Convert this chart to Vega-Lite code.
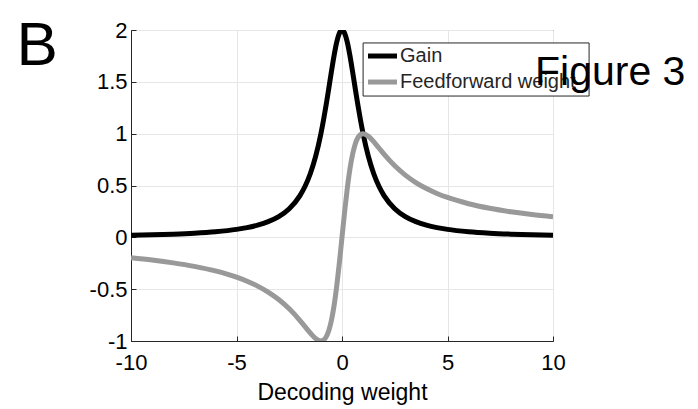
{
  "$schema": "https://vega.github.io/schema/vega-lite/v6.json",
  "width": 422,
  "height": 311,
  "autosize": {"type": "none"},
  "padding": {"left": 131, "top": 30, "right": 145, "bottom": 68},
  "background": "white",
  "config": {
    "view": {"stroke": "#262626", "strokeWidth": 1},
    "font": "Liberation Sans",
    "axis": {
      "labelFont": "Liberation Sans",
      "titleFont": "Liberation Sans",
      "labelColor": "#000000",
      "titleColor": "#000000",
      "labelFontSize": 22,
      "titleFontSize": 23,
      "titleFontWeight": "normal",
      "domainColor": "#262626",
      "tickColor": "#262626",
      "gridColor": "#e6e6e6",
      "labelFlush": false,
      "labelOverlap": false,
      "tickSize": -5,
      "labelExpr": "'' + datum.value"
    }
  },
  "datasets": {
    "curves": [
      {"x": -10, "Gain": 0.0198, "Feedforward": -0.198},
      {"x": -9, "Gain": 0.0244, "Feedforward": -0.2195},
      {"x": -8, "Gain": 0.0308, "Feedforward": -0.2462},
      {"x": -7, "Gain": 0.04, "Feedforward": -0.28},
      {"x": -6, "Gain": 0.0541, "Feedforward": -0.3243},
      {"x": -5, "Gain": 0.0769, "Feedforward": -0.3846},
      {"x": -4.5, "Gain": 0.0941, "Feedforward": -0.4235},
      {"x": -4, "Gain": 0.1176, "Feedforward": -0.4706},
      {"x": -3.5, "Gain": 0.1509, "Feedforward": -0.5283},
      {"x": -3, "Gain": 0.2, "Feedforward": -0.6},
      {"x": -2.5, "Gain": 0.2759, "Feedforward": -0.6897},
      {"x": -2, "Gain": 0.4, "Feedforward": -0.8},
      {"x": -1.75, "Gain": 0.4923, "Feedforward": -0.8615},
      {"x": -1.5, "Gain": 0.6154, "Feedforward": -0.9231},
      {"x": -1.25, "Gain": 0.7805, "Feedforward": -0.9756},
      {"x": -1, "Gain": 1, "Feedforward": -1},
      {"x": -0.875, "Gain": 1.1327, "Feedforward": -0.9912},
      {"x": -0.75, "Gain": 1.28, "Feedforward": -0.96},
      {"x": -0.625, "Gain": 1.4382, "Feedforward": -0.8989},
      {"x": -0.5, "Gain": 1.6, "Feedforward": -0.8},
      {"x": -0.375, "Gain": 1.7534, "Feedforward": -0.6575},
      {"x": -0.25, "Gain": 1.8824, "Feedforward": -0.4706},
      {"x": -0.125, "Gain": 1.9692, "Feedforward": -0.2462},
      {"x": 0, "Gain": 2, "Feedforward": 0},
      {"x": 0.125, "Gain": 1.9692, "Feedforward": 0.2462},
      {"x": 0.25, "Gain": 1.8824, "Feedforward": 0.4706},
      {"x": 0.375, "Gain": 1.7534, "Feedforward": 0.6575},
      {"x": 0.5, "Gain": 1.6, "Feedforward": 0.8},
      {"x": 0.625, "Gain": 1.4382, "Feedforward": 0.8989},
      {"x": 0.75, "Gain": 1.28, "Feedforward": 0.96},
      {"x": 0.875, "Gain": 1.1327, "Feedforward": 0.9912},
      {"x": 1, "Gain": 1, "Feedforward": 1},
      {"x": 1.25, "Gain": 0.7805, "Feedforward": 0.9756},
      {"x": 1.5, "Gain": 0.6154, "Feedforward": 0.9231},
      {"x": 1.75, "Gain": 0.4923, "Feedforward": 0.8615},
      {"x": 2, "Gain": 0.4, "Feedforward": 0.8},
      {"x": 2.5, "Gain": 0.2759, "Feedforward": 0.6897},
      {"x": 3, "Gain": 0.2, "Feedforward": 0.6},
      {"x": 3.5, "Gain": 0.1509, "Feedforward": 0.5283},
      {"x": 4, "Gain": 0.1176, "Feedforward": 0.4706},
      {"x": 4.5, "Gain": 0.0941, "Feedforward": 0.4235},
      {"x": 5, "Gain": 0.0769, "Feedforward": 0.3846},
      {"x": 6, "Gain": 0.0541, "Feedforward": 0.3243},
      {"x": 7, "Gain": 0.04, "Feedforward": 0.28},
      {"x": 8, "Gain": 0.0308, "Feedforward": 0.2462},
      {"x": 9, "Gain": 0.0244, "Feedforward": 0.2195},
      {"x": 10, "Gain": 0.0198, "Feedforward": 0.198}
    ],
    "one": [{}]
  },
  "layer": [
    {
      "data": {"name": "curves"},
      "transform": [{"fold": ["Gain", "Feedforward"], "as": ["series", "value"]}],
      "mark": {"type": "line", "strokeWidth": 5, "interpolate": "monotone", "clip": true},
      "encoding": {
        "x": {
          "field": "x", "type": "quantitative",
          "scale": {"domain": [-10, 10], "nice": false, "zero": false},
          "axis": {"values": [-10, -5, 0, 5, 10], "grid": true, "labelPadding": 16, "titlePadding": 8},
          "title": "Decoding weight"
        },
        "y": {
          "field": "value", "type": "quantitative",
          "scale": {"domain": [-1, 2], "nice": false, "zero": false},
          "axis": {"values": [-1, -0.5, 0, 0.5, 1, 1.5, 2], "grid": true, "labelPadding": 9},
          "title": null
        },
        "color": {
          "field": "series", "type": "nominal",
          "scale": {"domain": ["Gain", "Feedforward"], "range": ["#000000", "#999999"]},
          "legend": null
        }
      }
    },
    {
      "data": {"name": "one"},
      "mark": {"type": "rect", "fill": "white", "stroke": "#262626", "strokeWidth": 1},
      "encoding": {
        "x": {"datum": 1.0, "type": "quantitative"},
        "x2": {"datum": 11.71},
        "y": {"datum": 1.875, "type": "quantitative"},
        "y2": {"datum": 1.363}
      }
    },
    {
      "data": {"name": "one"},
      "mark": {"type": "rule", "stroke": "#000000", "strokeWidth": 5},
      "encoding": {
        "x": {"datum": 1.232, "type": "quantitative"},
        "x2": {"datum": 2.607},
        "y": {"datum": 1.749, "type": "quantitative"}
      }
    },
    {
      "data": {"name": "one"},
      "mark": {"type": "rule", "stroke": "#999999", "strokeWidth": 5},
      "encoding": {
        "x": {"datum": 1.232, "type": "quantitative"},
        "x2": {"datum": 2.607},
        "y": {"datum": 1.498, "type": "quantitative"}
      }
    },
    {
      "data": {"name": "one"},
      "mark": {"type": "text", "text": "Gain", "fontSize": 20, "align": "left", "baseline": "middle", "color": "#262626", "font": "Liberation Sans"},
      "encoding": {
        "x": {"datum": 2.749, "type": "quantitative"},
        "y": {"datum": 1.749, "type": "quantitative"}
      }
    },
    {
      "data": {"name": "one"},
      "mark": {"type": "text", "text": "Feedforward weight", "fontSize": 20, "align": "left", "baseline": "middle", "color": "#262626", "font": "Liberation Sans"},
      "encoding": {
        "x": {"datum": 2.749, "type": "quantitative"},
        "y": {"datum": 1.498, "type": "quantitative"}
      }
    },
    {
      "data": {"name": "one"},
      "mark": {"type": "text", "text": "Figure 3", "fontSize": 41, "align": "left", "baseline": "alphabetic", "color": "#000000", "font": "Liberation Sans"},
      "encoding": {
        "x": {"datum": 9.147, "type": "quantitative"},
        "y": {"datum": 1.469, "type": "quantitative"}
      }
    },
    {
      "data": {"name": "one"},
      "mark": {"type": "text", "text": "B", "fontSize": 62, "align": "center", "baseline": "middle", "color": "#000000", "font": "Liberation Sans"},
      "encoding": {
        "x": {"datum": -14.45, "type": "quantitative"},
        "y": {"datum": 1.846, "type": "quantitative"}
      }
    }
  ]
}
